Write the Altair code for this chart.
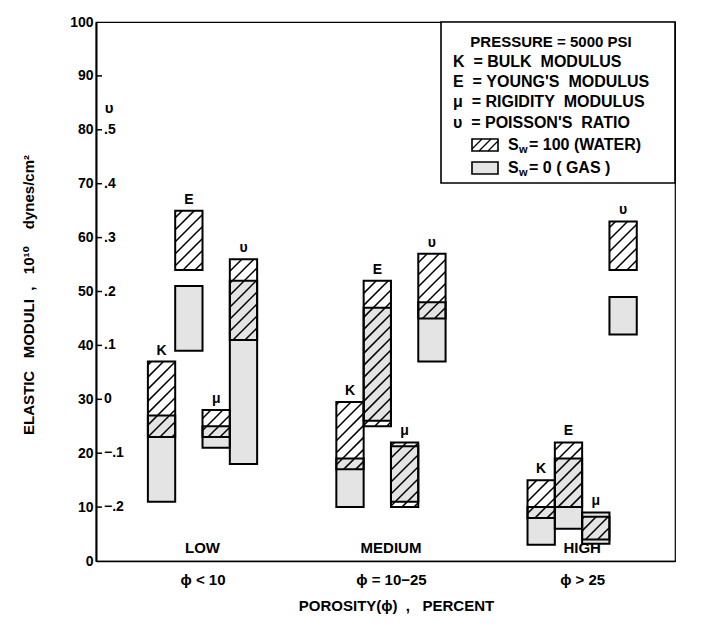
import math
import altair as alt
import pandas as pd

FONT = "Liberation Sans, DejaVu Sans"
NB = "\u00a0"

# ---------------- data ----------------
groups = ["LOW", "MEDIUM", "HIGH"]
porosity_labels = ["ϕ < 10", "ϕ = 10−25", "ϕ > 25"]
moduli = ["K", "E", "μ", "υ"]

# ranges in left-axis units, order K, E, mu, nu
water_low_lo = [23, 54, 23, 41]
water_low_hi = [37, 65, 28, 56]
gas_low_lo = [11, 39, 21, 18]
gas_low_hi = [27, 51, 25, 52]

water_med_lo = [17, 25, 10, 45]
water_med_hi = [29.5, 52, 22, 57]
gas_med_lo = [10, 26, 11, 37]
gas_med_hi = [19, 47, 21.3, 48]

water_high_lo = [8, 10, 4, 54]
water_high_hi = [15, 22, 8.2, 63]
gas_high_lo = [3, 6, 3.2, 42]
gas_high_hi = [10, 19, 9, 49]

y_ticks = [0, 10, 20, 30, 40, 50, 60, 70, 80, 90, 100]
nu_positions = [10, 20, 30, 40, 50, 60, 70, 80]
nu_labels = ["−.2", "−.1", "0", ".1", ".2", ".3", ".4", ".5"]

# ---------------- layout ----------------
W, H = 579, 539
XMAX = 21.2
group_start = [1.9, 8.8, 15.8]
SX = W / XMAX
SY = H / 100.0
STIPPLE = "#e4e4e4"

water_lo = [water_low_lo, water_med_lo, water_high_lo]
water_hi = [water_low_hi, water_med_hi, water_high_hi]
gas_lo = [gas_low_lo, gas_med_lo, gas_high_lo]
gas_hi = [gas_low_hi, gas_med_hi, gas_high_hi]

rows = []
for gi, g in enumerate(groups):
    for mi, m in enumerate(moduli):
        x0 = group_start[gi] + mi
        rows.append(dict(group=g, modulus=m, x=x0, x2=x0 + 1, lo=water_lo[gi][mi], hi=water_hi[gi][mi], kind="water"))
        rows.append(dict(group=g, modulus=m, x=x0, x2=x0 + 1, lo=gas_lo[gi][mi], hi=gas_hi[gi][mi], kind="gas"))
bars = pd.DataFrame(rows)
water = bars[bars.kind == "water"]
gas = bars[bars.kind == "gas"]


def hatch(x0, x1, y0, y1, sx, sy, period=12.0):
    X0, X1, Y0, Y1 = x0 * sx, x1 * sx, y0 * sy, y1 * sy
    segs = []
    k0 = math.floor((Y0 - X1) / period)
    k1 = math.ceil((Y1 - X0) / period)
    for k in range(k0, k1 + 1):
        c = k * period
        xs_ = max(X0, Y0 - c)
        xe_ = min(X1, Y1 - c)
        if xe_ - xs_ > 0.5:
            segs.append((xs_ / sx, (xs_ + c) / sy, xe_ / sx, (xe_ + c) / sy))
    return segs


hrows = []
for _, r in water.iterrows():
    for s in hatch(r.x, r.x2, r.lo, r.hi, SX, SY):
        hrows.append(dict(x=s[0], lo=s[1], x2=s[2], hi=s[3]))
hatch_df = pd.DataFrame(hrows)

top_df = bars.groupby(["group", "modulus", "x"], as_index=False)["hi"].max()
top_df["x"] = top_df["x"] + 0.5

centers = [s + 2 for s in group_start]
cat_df = pd.DataFrame(dict(x=centers, label=groups))

xs = alt.Scale(domain=[0, XMAX], nice=False, zero=False)
ys = alt.Scale(domain=[0, 100], nice=False, zero=False)

label_expr = (
    f"datum.value < {(centers[0] + centers[1]) / 2} ? '{porosity_labels[0]}' : "
    f"datum.value < {(centers[1] + centers[2]) / 2} ? '{porosity_labels[1]}' : '{porosity_labels[2]}'"
)

xaxis = alt.Axis(
    values=centers, labelExpr=label_expr, ticks=False, grid=False,
    domainColor="black", domainWidth=1.5,
    labelFont=FONT, labelFontSize=15, labelFontWeight="bold", labelColor="black",
    labelPadding=11, labelOverlap=False,
    title=f"POROSITY(ϕ){NB}{NB},{NB}{NB}{NB}PERCENT", titleFont=FONT, titleFontSize=15,
    titleFontWeight="bold", titleColor="black", titleY=44, titleX=300,
    titleAlign="center", titleBaseline="middle",
)
yaxis = alt.Axis(
    values=y_ticks, ticks=False, grid=False,
    domainColor="black", domainWidth=2,
    labelFont=FONT, labelFontSize=14, labelFontWeight="bold", labelColor="black",
    labelPadding=3,
    title=f"ELASTIC{NB}{NB}{NB}MODULI{NB}{NB},{NB}{NB}{NB}10¹⁰{NB}{NB}{NB}{NB}dynes/cm²",
    titleFont=FONT, titleFontSize=15, titleFontWeight="bold", titleColor="black",
    titleX=-68, titleY=H / 2 + 3, titleAngle=270, titleAlign="center", titleBaseline="middle",
)


def X(field="x"):
    return alt.X(f"{field}:Q", scale=xs, axis=xaxis)


def Y(field="lo"):
    return alt.Y(f"{field}:Q", scale=ys, axis=yaxis)


white = alt.Chart(water).mark_rect(fill="white").encode(x=X(), x2="x2:Q", y=Y(), y2="hi:Q")
gas_fill = alt.Chart(gas).mark_rect(fill=STIPPLE).encode(x=X(), x2="x2:Q", y=Y(), y2="hi:Q")
hatch_lines = alt.Chart(hatch_df).mark_rule(color="black", strokeWidth=1.5).encode(
    x=X(), x2="x2:Q", y=Y(), y2="hi:Q"
)
outlines = alt.Chart(bars).mark_rect(fillOpacity=0, stroke="black", strokeWidth=2).encode(
    x=X(), x2="x2:Q", y=Y(), y2="hi:Q"
)
mod_labels = alt.Chart(top_df).mark_text(
    font=FONT, fontSize=14, fontWeight="bold", color="black", baseline="bottom", dy=-4
).encode(x=X(), y=Y("hi"), text="modulus:N")
cat_labels = alt.Chart(cat_df).mark_text(
    font=FONT, fontSize=15, fontWeight="bold", color="black", baseline="middle"
).encode(x=X(), y=alt.value(H - 13), text="label:N")

tick_df = pd.DataFrame(dict(lo=y_ticks[1:-1]))
ticks = alt.Chart(tick_df).mark_rule(color="black", strokeWidth=1.5).encode(
    y=Y(), x=alt.value(0), x2=alt.value(6)
)
nu_df = pd.DataFrame(dict(lo=nu_positions, label=nu_labels))
nu_text = alt.Chart(nu_df).mark_text(
    font=FONT, fontSize=14, fontWeight="bold", color="black", align="left", baseline="middle"
).encode(y=Y(), x=alt.value(8), text="label:N")
nu_sym = alt.Chart(pd.DataFrame(dict(lo=[84], label=["υ"]))).mark_text(
    font=FONT, fontSize=15, fontWeight="bold", color="black", align="center", baseline="middle"
).encode(y=Y(), x=alt.value(13), text="label:N")

# ---------------- legend (pixel space) ----------------
legend_box = alt.Chart(pd.DataFrame(dict(a=[345], b=[579], c=[0], d=[161]))).mark_rect(
    fill="white", stroke="black", strokeWidth=1.6
).encode(
    x=alt.X("a:Q", scale=None), x2="b:Q",
    y=alt.Y("c:Q", scale=None), y2="d:Q",
)
legend_title = alt.Chart(pd.DataFrame(dict(lx=[455], ly=[20], t=[f"PRESSURE{NB}={NB}5000{NB}PSI"]))).mark_text(
    font=FONT, fontSize=15, fontWeight="bold", color="black", align="center", baseline="middle"
).encode(x=alt.X("lx:Q", scale=None), y=alt.Y("ly:Q", scale=None), text="t:N")

legend_lines = pd.DataFrame(dict(
    lx=[357, 357, 357, 357],
    ly=[40, 60, 80, 101],
    t=[
        f"K{NB}{NB}={NB}BULK{NB}{NB}MODULUS",
        f"E{NB}{NB}={NB}YOUNG'S{NB}{NB}MODULUS",
        f"μ{NB}{NB}={NB}RIGIDITY{NB}{NB}MODULUS",
        f"υ{NB}{NB}={NB}POISSON'S{NB}{NB}RATIO",
    ],
))
legend_text = alt.Chart(legend_lines).mark_text(
    font=FONT, fontSize=16, fontWeight="bold", color="black", align="left", baseline="middle"
).encode(x=alt.X("lx:Q", scale=None), y=alt.Y("ly:Q", scale=None), text="t:N")

sw = pd.DataFrame(dict(a=[376, 376], b=[402, 402], c=[117, 140], d=[129, 152], f=["white", STIPPLE]))
swatch_fill = alt.Chart(sw).mark_rect(stroke="black", strokeWidth=1.6).encode(
    x=alt.X("a:Q", scale=None), x2="b:Q", y=alt.Y("c:Q", scale=None), y2="d:Q",
    fill=alt.Fill("f:N", scale=None),
)
sw_h = []
for s in hatch(376, 402, H - 129, H - 117, 1.0, 1.0, period=9.0):
    sw_h.append(dict(hx=s[0], hy=H - s[1], hx2=s[2], hy2=H - s[3]))
swatch_hatch = alt.Chart(pd.DataFrame(sw_h)).mark_rule(color="black", strokeWidth=1.3).encode(
    x=alt.X("hx:Q", scale=None), x2="hx2:Q", y=alt.Y("hy:Q", scale=None), y2="hy2:Q"
)
sw_text = pd.DataFrame(dict(
    lx=[412, 423, 433, 412, 423, 433],
    ly=[123, 128, 123, 146, 151, 146],
    t=["S", "w", f"={NB}100{NB}(WATER)", "S", "w", f"={NB}0{NB}({NB}GAS{NB})"],
    fs=[16, 11, 16, 16, 11, 16],
))
swatch_text = alt.Chart(sw_text).mark_text(
    font=FONT, fontWeight="bold", color="black", align="left", baseline="middle"
).encode(
    x=alt.X("lx:Q", scale=None), y=alt.Y("ly:Q", scale=None), text="t:N",
    size=alt.Size("fs:Q", scale=None),
)

chart = alt.layer(
    white, gas_fill, hatch_lines, outlines, mod_labels, cat_labels, ticks, nu_text, nu_sym,
    legend_box, legend_title, legend_text, swatch_fill, swatch_hatch, swatch_text,
).properties(
    width=W, height=H,
    autosize=alt.AutoSizeParams(type="none"),
    padding={"left": 88, "top": 14, "right": 30, "bottom": 58},
    background="white",
).configure_view(stroke="black", strokeWidth=1.2)

chart.save("out.html", embed_options={"renderer": "svg", "actions": False})
